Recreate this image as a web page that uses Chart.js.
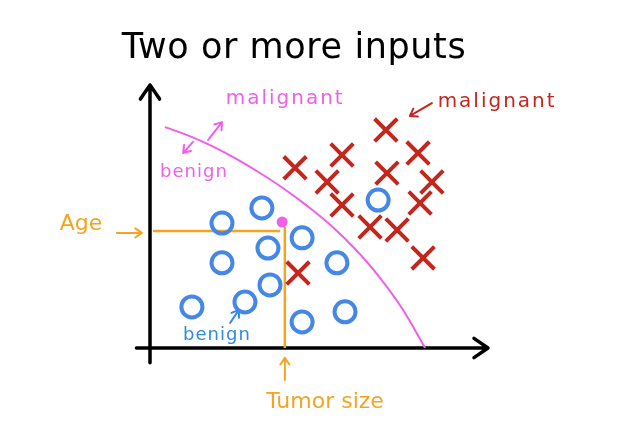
<!DOCTYPE html>
<html>
<head>
<meta charset="utf-8">
<style>
  html, body { margin: 0; padding: 0; background: #fff; }
  #wrap { width: 638px; height: 436px; }
</style>
<script src="https://cdn.jsdelivr.net/npm/chart.js@4/dist/chart.umd.min.js"></script>
</head>
<body>
<div id="wrap"><canvas id="c" width="638" height="436"></canvas></div>
<script>
// Two or more inputs: tumor size (x) vs age (y), benign (o) and malignant (x)
const benignX = [2.13, 3.31, 3.49, 4.50, 2.13, 5.53, 3.55, 2.81, 1.24, 4.50, 5.77, 6.75];
const benignY = [3.80, 4.26, 3.04, 3.35, 2.59, 2.59, 1.92, 1.40, 1.25, 0.79, 1.10, 4.50];

const malignantX = [4.29, 5.68, 6.98, 7.93, 5.24, 7.01, 8.34, 5.68, 7.99, 6.51, 7.31, 8.08, 4.38];
const malignantY = [5.48, 5.87, 6.63, 5.93, 5.05, 5.32, 5.05, 4.35, 4.41, 3.68, 3.59, 2.74, 2.28];

// decision boundary (hand drawn)
const boundaryX = [0.44, 1.14, 1.84, 2.54, 3.24, 3.94, 4.64, 5.34, 6.04, 6.74, 7.44, 8.14];
const boundaryY = [6.72, 6.46, 6.14, 5.76, 5.33, 4.86, 4.33, 3.74, 3.04, 2.22, 1.23, 0.00];

// new patient to classify
const patientX = [3.91];
const patientY = [3.83];

const pts = (xs, ys) => xs.map((x, i) => ({ x: x, y: ys[i] }));

const BLUE = '#4587e6';
const RED = '#c3261c';
const PINK = '#ef5fe9';
const ORANGE = '#f5a321';

// labels and little arrows, in data units
const notes = [
  { text: 'malignant', x: 4.00, y: 7.57, color: PINK, size: 20, spacing: 2 },
  { text: 'benign', x: 1.30, y: 5.35, color: PINK, size: 18, spacing: 1 },
  { text: 'malignant', x: 10.27, y: 7.48, color: RED, size: 20, spacing: 2 },
  { text: 'benign', x: 1.98, y: 0.40, color: '#2f8be0', size: 18, spacing: 1 },
  { text: 'Age', x: -2.04, y: 3.77, color: ORANGE, size: 22, spacing: 0 },
  { text: 'Tumor size', x: 5.18, y: -1.64, color: ORANGE, size: 22, spacing: 0 }
];
const arrows = [
  { from: [-0.98, 3.50], to: [-0.24, 3.50], color: ORANGE },
  { from: [3.99, -0.97], to: [3.99, -0.30], color: ORANGE },
  { from: [1.72, 6.33], to: [2.13, 6.87], color: PINK },
  { from: [1.27, 6.27], to: [0.98, 5.93], color: PINK },
  { from: [8.34, 7.45], to: [7.69, 7.06], color: RED },
  { from: [2.37, 0.76], to: [2.63, 1.16], color: '#2f8be0' }
];

function arrow(ctx, x1, y1, x2, y2, head, width, color) {
  const a = Math.atan2(y2 - y1, x2 - x1);
  ctx.save();
  ctx.strokeStyle = color;
  ctx.lineWidth = width;
  ctx.lineCap = 'round';
  ctx.lineJoin = 'round';
  ctx.beginPath();
  ctx.moveTo(x1, y1);
  ctx.lineTo(x2, y2);
  ctx.moveTo(x2 - head * Math.cos(a - 0.6), y2 - head * Math.sin(a - 0.6));
  ctx.lineTo(x2, y2);
  ctx.lineTo(x2 - head * Math.cos(a + 0.6), y2 - head * Math.sin(a + 0.6));
  ctx.stroke();
  ctx.restore();
}

const sketch = {
  id: 'sketch',
  beforeDatasetsDraw(chart) {
    const ctx = chart.ctx;
    const xs = chart.scales.x, ys = chart.scales.y;
    const x0 = xs.getPixelForValue(0), y0 = ys.getPixelForValue(0);
    // axes with arrow heads
    arrow(ctx, x0, ys.getPixelForValue(-0.45), x0, ys.getPixelForValue(8), 17, 3.5, '#000');
    arrow(ctx, xs.getPixelForValue(-0.4), y0, xs.getPixelForValue(10), y0, 17, 3.5, '#000');

    // title
    ctx.save();
    ctx.fillStyle = '#000';
    ctx.font = '35px "DejaVu Sans"';
    ctx.letterSpacing = '0.6px';
    ctx.textAlign = 'center';
    ctx.textBaseline = 'alphabetic';
    ctx.fillText('Two or more inputs', 294, 58);
    ctx.restore();

    notes.forEach(n => {
      ctx.save();
      ctx.fillStyle = n.color;
      ctx.font = n.size + 'px "DejaVu Sans"';
      ctx.letterSpacing = n.spacing + 'px';
      ctx.textAlign = 'center';
      ctx.textBaseline = 'middle';
      ctx.fillText(n.text, xs.getPixelForValue(n.x), ys.getPixelForValue(n.y));
      ctx.restore();
    });
    arrows.forEach(a => {
      arrow(ctx, xs.getPixelForValue(a.from[0]), ys.getPixelForValue(a.from[1]),
        xs.getPixelForValue(a.to[0]), ys.getPixelForValue(a.to[1]), 8, 2, a.color);
    });
  }
};

new Chart(document.getElementById('c'), {
  type: 'scatter',
  data: {
    datasets: [
      {
        data: pts(patientX, patientY),
        pointStyle: 'circle', pointRadius: 5.5,
        backgroundColor: PINK, borderColor: PINK, borderWidth: 0
      },
      {
        data: pts(benignX, benignY),
        pointStyle: 'circle', pointRadius: 10.5,
        backgroundColor: 'rgba(0,0,0,0)', borderColor: BLUE, borderWidth: 4
      },
      {
        data: pts(malignantX, malignantY),
        pointStyle: 'crossRot', pointRadius: 16,
        borderColor: RED, borderWidth: 4
      },
      {
        // guide lines from the patient dot to the axes
        data: [{ x: 0.09, y: 3.56 }, { x: 3.85, y: 3.56 }],
        showLine: true, pointRadius: 0, borderColor: ORANGE, borderWidth: 2.5
      },
      {
        data: [{ x: 3.99, y: 3.68 }, { x: 3.99, y: 0 }],
        showLine: true, pointRadius: 0, borderColor: ORANGE, borderWidth: 2.5
      },
      {
        data: pts(boundaryX, boundaryY),
        showLine: true, tension: 0.4, pointRadius: 0,
        borderColor: PINK, borderWidth: 2
      }
    ]
  },
  options: {
    responsive: false,
    animation: false,
    events: [],
    layout: { padding: { left: 150, right: 150, top: 85, bottom: 88 } },
    plugins: { legend: { display: false }, tooltip: { enabled: false } },
    scales: {
      x: { type: 'linear', min: 0, max: 10, display: false },
      y: { type: 'linear', min: 0, max: 8, display: false }
    }
  },
  plugins: [sketch]
});
</script>
</body>
</html>
